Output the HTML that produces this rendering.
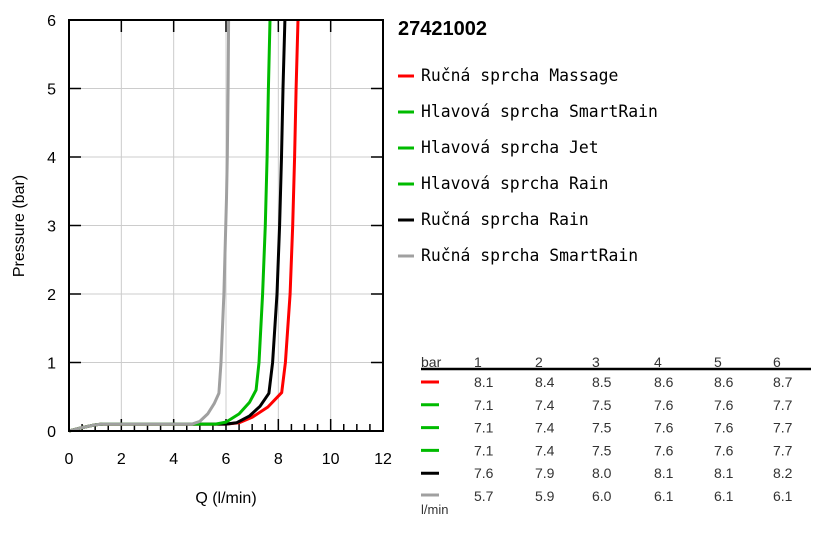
<!DOCTYPE html>
<html><head><meta charset="utf-8"><style>
body{margin:0;background:#fff;width:829px;height:540px;overflow:hidden;font-family:"Liberation Sans",Arial,sans-serif}
</style></head><body>
<svg id="c" width="829" height="540" xmlns="http://www.w3.org/2000/svg"></svg>
<script>
const xTicks=[0,2,4,6,8,10,12];
const yTicks=[0,1,2,3,4,5,6];
const seriesNames=["Ručná sprcha Massage","Hlavová sprcha SmartRain","Hlavová sprcha Jet","Hlavová sprcha Rain","Ručná sprcha Rain","Ručná sprcha SmartRain"];
const seriesColors=["#ff0000","#00bb00","#00bb00","#00bb00","#000000","#a0a0a0"];
const redQ=[0,0.5,1,1.3,6,6.5,7,7.6,8.13,8.27,8.45,8.55,8.62,8.68,8.75];
const redP=[0,0.05,0.09,0.1,0.1,0.12,0.2,0.35,0.56,1,2,3,4,5,6];
const greenQ=[0,0.5,1,1.3,5.6,6,6.5,6.9,7.15,7.26,7.4,7.5,7.57,7.62,7.68];
const greenP=[0,0.05,0.09,0.1,0.1,0.13,0.25,0.42,0.6,1,2,3,4,5,6];
const blackQ=[0,0.5,1,1.3,6,6.4,6.9,7.3,7.64,7.78,7.95,8.05,8.12,8.18,8.25];
const blackP=[0,0.05,0.09,0.1,0.1,0.12,0.22,0.36,0.55,1,2,3,4,5,6];
const grayQ=[0,0.5,1,1.3,4.7,5.0,5.3,5.55,5.73,5.81,5.92,6.02,6.05,6.08,6.1];
const grayP=[0,0.05,0.09,0.1,0.1,0.14,0.25,0.4,0.55,1,2,3.4,4,5,6];
const tableHead=["1","2","3","4","5","6"];
const tableRows=[["8.1","8.4","8.5","8.6","8.6","8.7"],["7.1","7.4","7.5","7.6","7.6","7.7"],["7.1","7.4","7.5","7.6","7.6","7.7"],["7.1","7.4","7.5","7.6","7.6","7.7"],["7.6","7.9","8.0","8.1","8.1","8.2"],["5.7","5.9","6.0","6.1","6.1","6.1"]];
const L=69,R=383,T=20,B=431;
const xs=v=>L+(v/12)*(R-L), ys=v=>B-(v/6)*(B-T);
const svg=document.getElementById('c');const NS="http://www.w3.org/2000/svg";
function el(t,a,txt){const e=document.createElementNS(NS,t);for(const k in a)e.setAttribute(k,a[k]);if(txt!=null)e.textContent=txt;svg.appendChild(e);return e;}
xTicks.forEach(v=>{const e=el('line',{x1:xs(v),x2:xs(v),y1:T,y2:B,stroke:'#ccc','stroke-width':1});

});
yTicks.forEach(v=>{const e=el('line',{x1:L,x2:R,y1:ys(v),y2:ys(v),stroke:'#ccc','stroke-width':1});

});
for(let v=0;v<=12;v+=0.5){const big=v%2===0;const e=el('line',{x1:xs(v),x2:xs(v),y1:B,y2:B-(big?12:7),stroke:'#000','stroke-width':1.5});


if(big){const t2=el('line',{x1:xs(v),x2:xs(v),y1:T,y2:T+12,stroke:'#000','stroke-width':1.5});

}}
yTicks.forEach(v=>{const a=el('line',{x1:L,x2:L+12,y1:ys(v),y2:ys(v),stroke:'#000','stroke-width':1.5});


const b=el('line',{x1:R-12,x2:R,y1:ys(v),y2:ys(v),stroke:'#000','stroke-width':1.5});

});
xTicks.forEach(v=>{const e=el('text',{x:xs(v),y:464,'text-anchor':'middle','font-size':16,fill:'#000'},String(v));

});
yTicks.forEach(v=>{const e=el('text',{x:56,y:ys(v)+6,'text-anchor':'end','font-size':16,fill:'#000'},String(v));

});
let xt=el('text',{x:226,y:503,'text-anchor':'middle','font-size':16},'Q (l/min)');


let yt=el('text',{x:24,y:226,'text-anchor':'middle','font-size':16,transform:'rotate(-90 24 226)'},'Pressure (bar)');


const curves=[[redQ,redP,"#ff0000","curve-massage"],[blackQ,blackP,"#000000","curve-hand-rain"],[greenQ,greenP,"#00bb00","curve-head"],[grayQ,grayP,"#a0a0a0","curve-hand-smartrain"]];
curves.forEach(c=>{const d=c[0].map((q,i)=>(i?'L':'M')+xs(q).toFixed(1)+','+ys(c[1][i]).toFixed(1)).join('');
const e=el('path',{d:d,fill:'none',stroke:c[2],'stroke-width':3,'stroke-linejoin':'round'});

});
let fr=el('rect',{x:L,y:T,width:R-L,height:B-T,fill:'none',stroke:'#000','stroke-width':2});


let ti=el('text',{x:398,y:35,'font-size':20,'font-weight':'bold'},'27421002');


seriesNames.forEach((n,i)=>{const y=76+i*36;
const s=el('line',{x1:398,x2:414,y1:y,y2:y,stroke:seriesColors[i],'stroke-width':3});


const t=el('text',{x:421,y:y+5,'font-size':16.4,'font-family':'"DejaVu Sans Mono",monospace'},n);

});
const colX=[474,535,592,654,714,773];
let bh=el('text',{x:421,y:367,'font-size':14,fill:'#333'},'bar');


tableHead.forEach((h,i)=>{const e=el('text',{x:colX[i],y:367,'font-size':14,fill:'#333'},h);

});
let ul=el('line',{x1:421,x2:811,y1:369,y2:369,stroke:'#000','stroke-width':2.5});


tableRows.forEach((r,j)=>{const y=387+j*22.8;
const s=el('line',{x1:421,x2:439,y1:j===5?y-6:y-5,y2:j===5?y-6:y-5,stroke:seriesColors[j],'stroke-width':3});


r.forEach((v,i)=>{const e=el('text',{x:colX[i],y:y,'font-size':14,fill:'#333'},v);

});});
let lm=el('text',{x:421,y:514,'font-size':13,fill:'#333'},'l/min');


</script>
</body></html>
